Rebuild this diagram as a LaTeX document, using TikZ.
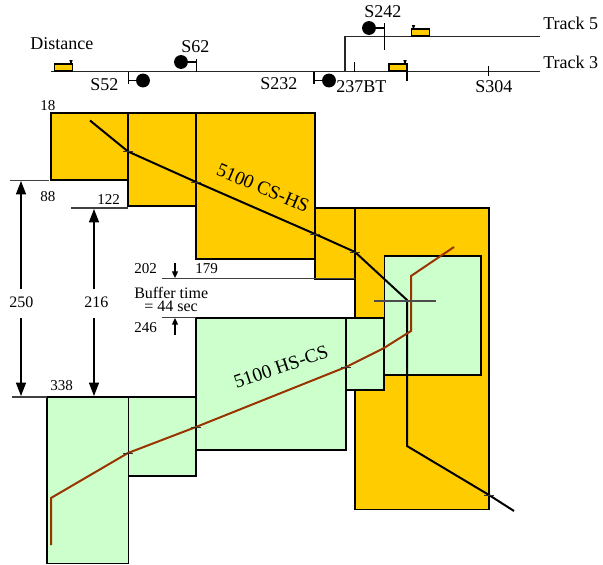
\documentclass[tikz,border=0pt]{standalone}
\usepackage{fontspec}
\setmainfont{Liberation Serif}
\usetikzlibrary{arrows.meta}
\definecolor{pathyellow}{RGB}{255,204,0}
\definecolor{pathgreen}{RGB}{204,255,204}
\definecolor{pathred}{RGB}{153,51,0}
\tikzset{
	csblock/.style={draw=black, line width=1.4pt, fill=pathyellow},
	hsblock/.style={draw=black, line width=1.4pt, fill=pathgreen},
	trackline/.style={draw=black!85, line width=1pt},
	timeline/.style={draw=black!75, line width=1pt},
	postline/.style={draw=black, line width=.9pt},
	tickline/.style={draw=black!80, line width=.6pt},
	span/.style={draw=black, line width=1pt, -{Triangle[length=10pt,width=7.5pt]}},
	tinyspan/.style={draw=black, line width=.9pt, -{Triangle[length=5pt,width=4.5pt]}},
	csrun/.style={draw=black, line width=1.5pt},
	hsrun/.style={draw=pathred, line width=1.5pt},
	lab/.style={inner sep=0pt, font=\fontsize{13.5}{14}\selectfont},
	runlab/.style={inner sep=0pt, font=\fontsize{14.5}{15}\selectfont},
	smalllab/.style={inner sep=0pt, font=\fontsize{11.3}{12}\selectfont},
	midlab/.style={inner sep=0pt, font=\fontsize{12}{13}\selectfont},
}
% #1 style, #2 corner, #3 corner
\newcommand{\blockpath}[3]{
	\draw[#1] #2 rectangle #3;
}
% #1 left, #2 base, #3 chimney
\newcommand{\engine}[3]{
	\draw[line width=1.2pt, fill=pathyellow] (#1,#2) rectangle ++(18,-7);
	\fill[black] (#3,#2-6) -- ++(-1.7,-5) -- ++(3.4,0) -- cycle;
}
\begin{document}
\begin{tikzpicture}[x=.75pt, y=-.75pt]
	\useasboundingbox (0,0) rectangle (603,564);

	% tracks
	\draw[trackline] (51,71.5) -- (540,71.5);
	\draw[trackline] (345,71.5) -- (345,36.5) -- (540,36.5);
	\draw[postline] (128.5,71.5) -- (128.5,84);
	\draw[postline] (196.5,59) -- (196.5,71.5);
	\draw[postline] (314,72) -- (314,84);
	\draw[postline] (354.5,62) -- (354.5,71.5);
	\draw[postline] (384.5,23) -- (384.5,50);
	\draw[postline] (407,71.5) -- (407,81);
	\draw[postline] (488.5,66) -- (488.5,76);
	% signals
	\coordinate (s52) at (143,80.5);
	\coordinate (s62) at (181,62);
	\coordinate (s232) at (329,80.5);
	\coordinate (s242) at (369,28);
	\fill (s52) circle (5.2pt);
	\fill (s62) circle (5.2pt);
	\fill (s232) circle (5.2pt);
	\fill (s242) circle (5.2pt);
	\draw[postline] (128.5,80.5) -- (s52);
	\draw[postline] (s62) -- (196.5,62);
	\draw[postline] (314,80.5) -- (s232);
	\draw[postline] (s242) -- (384.5,28);
	% engines
	\engine{54.5}{71}{71}
	\engine{389}{71}{405}
	\engine{411.5}{36}{413.5}

	\node[lab, anchor=base west] (distance) at (30,49) {Distance};
	\node[lab, anchor=base west] (s52lab) at (90,90) {S52};
	\node[lab, anchor=base west] (s62lab) at (181,52) {S62};
	\node[lab, anchor=base west] (s232lab) at (260,89) {S232};
	\node[lab, anchor=base west] (s242lab) at (364,17) {S242};
	\node[lab, anchor=base west] (bt) at (336,92) {237BT};
	\node[lab, anchor=base west] (s304) at (475,92) {S304};
	\node[lab, anchor=base west] (track5) at (543,29) {Track 5};
	\node[lab, anchor=base west] (track3) at (543,68) {Track 3};

	% blocking time stairway
	\blockpath{csblock}{(355,208)}{(489,509.5)}
	\blockpath{csblock}{(315,208)}{(355,279)}
	\blockpath{csblock}{(196,113)}{(315,259)}
	\blockpath{csblock}{(128,113)}{(196,206)}
	\blockpath{csblock}{(51,113)}{(128,180)}
	\blockpath{hsblock}{(47,397)}{(128.5,563.5)}
	\blockpath{hsblock}{(128.5,397)}{(196,476)}
	\blockpath{hsblock}{(196,318)}{(346,450)}
	\blockpath{hsblock}{(346,318)}{(384,390)}
	\blockpath{hsblock}{(384.5,256)}{(481,375)}

	% train runs
	\draw[csrun] (90,120.5) -- (128,151.5) -- (196,182) -- (315,234) -- (355,252) -- (407,300) -- (407,446) -- (489,495) -- (514,511);
	\draw[hsrun] (51,545) -- (51,498) -- (128,453) -- (196,427) -- (346,367) -- (384,348) -- (411,331) -- (411,276) -- (454,247);
	\foreach \tx/\ty in {128/151.5,196/182,315/234,355/252,489/495}
		\draw[tickline] (\tx-5,\ty) -- (\tx+5,\ty);
	\foreach \tx/\ty in {128/453,196/427,346/367}
		\draw[tickline] (\tx-5,\ty) -- (\tx+5,\ty);
	\draw[line width=1pt, black!70] (374,301) -- (436,301);

	% dimension lines
	\draw[timeline] (10,180.5) -- (49,180.5);
	\draw[timeline] (71,208) -- (128,208);
	\draw[timeline] (162,278.5) -- (355,278.5);
	\draw[timeline] (162,317.5) -- (196,317.5);
	\draw[timeline] (12,397) -- (47,397);
	\draw[span] (21,289) -- (21,181);
	\draw[span] (21,318) -- (21,396);
	\draw[span] (94,289) -- (94,209);
	\draw[span] (94,318) -- (94,396);
	\draw[tinyspan] (175,263) -- (175,278);
	\draw[tinyspan] (175,335) -- (175,318);

	\node[smalllab, anchor=base west] (n18) at (40,110) {18};
	\node[smalllab, anchor=base west] (n88) at (40,201) {88};
	\node[smalllab, anchor=base west] (n122) at (97,204) {122};
	\node[smalllab, anchor=base west] (n179) at (195,273) {179};
	\node[smalllab, anchor=base west] (n202) at (134,273) {202};
	\node[smalllab, anchor=base west] (n246) at (134,332) {246};
	\node[smalllab, anchor=base west] (n338) at (50,390) {338};
	\node[midlab, anchor=base west] (n250) at (9,307) {250};
	\node[midlab, anchor=base west] (n216) at (84,307) {216};
	\node[midlab, anchor=base west] (buf) at (134,298) {Buffer time};
	\node[midlab, anchor=base west] (sec) at (144,311) {= 44 sec};
	\node[runlab, rotate=-23] (cshs) at (263,188) {5100 CS-HS};
	\node[runlab, rotate=19] (hscs) at (281,367) {5100 HS-CS};
\end{tikzpicture}
\end{document}
